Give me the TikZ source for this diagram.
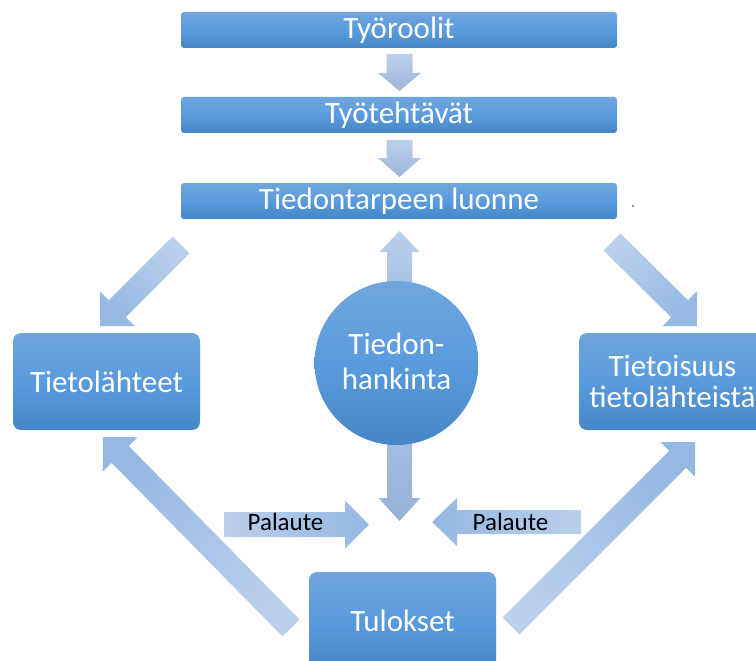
\documentclass[tikz,border=0pt]{standalone}
\usepackage{fontspec}
\setmainfont{Carlito}
\usetikzlibrary{calc}

\definecolor{boxtop}{RGB}{112,166,220}
\definecolor{boxmid}{RGB}{89,155,221}
\definecolor{boxbot}{RGB}{70,134,198}
\definecolor{arrlight}{RGB}{186,208,236}
\definecolor{arrdark}{RGB}{149,184,226}
\definecolor{arrgrey}{RGB}{158,181,216}
\definecolor{dotblue}{RGB}{80,110,230}

\tikzset{
  bar/.style={rectangle, inner sep=0pt, minimum width=436pt, minimum height=36pt,
    rounded corners=3pt, top color=boxtop, bottom color=boxbot, middle color=boxmid,
    text=white, font=\fontsize{31}{32}\selectfont},
  card/.style={rectangle, inner sep=0pt, minimum width=187pt, minimum height=97pt,
    rounded corners=8pt, top color=boxtop, bottom color=boxbot, middle color=boxmid,
    text=white, font=\fontsize{31}{31}\selectfont, align=center},
  hub/.style={circle, inner sep=0pt, minimum size=164pt,
    top color=boxtop, bottom color=boxbot, middle color=boxmid},
  hubtext/.style={inner sep=0pt, text=white, font=\fontsize{31}{35}\selectfont, align=center},
  fbtext/.style={inner sep=0pt, anchor=base, text=black, font=\fontsize{25}{27}\selectfont},
  fatfill/.style={top color=arrlight, bottom color=arrdark, shading angle=#1},
  greyfill/.style={top color=arrlight, bottom color=arrgrey, shading angle=#1},
}

% block arrow from tail #2 to tip #3: shaft half-width #4, head half-width #5, head length #6
\newcommand{\fatarrow}[6]{%
  \coordinate (fa-base) at ($(#3)!#6!(#2)$);
  \path[#1] ($(#2)!#4!90:(#3)$) -- ($(fa-base)!#4!90:(#3)$) -- ($(fa-base)!#5!90:(#3)$)
    -- (#3) -- ($(fa-base)!#5!-90:(#3)$) -- ($(fa-base)!#4!-90:(#3)$)
    -- ($(#2)!#4!-90:(#3)$) -- cycle;
}

\begin{document}
\begin{tikzpicture}[x=1pt, y=-1pt]
  \useasboundingbox (0,0) rectangle (756,661);
  \clip (0,0) rectangle (756,661);

  % arrow end points
  \coordinate (r2t-a) at (399.5,54);   \coordinate (r2t-b) at (399.5,91);
  \coordinate (t2n-a) at (399.5,140);  \coordinate (t2n-b) at (399.5,177);
  \coordinate (up-a)  at (399.5,300);  \coordinate (up-b)  at (399.5,231);
  \coordinate (dn-a)  at (399.5,430);  \coordinate (dn-b)  at (399.5,521);
  \coordinate (n2s-a) at (181,245);    \coordinate (n2s-b) at (100,326);
  \coordinate (n2w-a) at (612,242);    \coordinate (n2w-b) at (697,326);
  \coordinate (r2s-a) at (291,628);    \coordinate (r2s-b) at (103,437);
  \coordinate (r2w-a) at (511,626);    \coordinate (r2w-b) at (695,442);
  \coordinate (fbl-a) at (224,524.5);  \coordinate (fbl-b) at (369,524.5);
  \coordinate (fbr-a) at (581,522);    \coordinate (fbr-b) at (432,522);

  % block arrows
  \fatarrow{greyfill=0}{r2t-a}{r2t-b}{13pt}{21.5pt}{18pt}
  \fatarrow{greyfill=0}{t2n-a}{t2n-b}{13pt}{21.5pt}{19pt}
  \fatarrow{top color=arrlight, bottom color={rgb,255:red,163;green,190;blue,226}}{up-a}{up-b}{12.5pt}{20pt}{21pt}
  \fatarrow{top color={rgb,255:red,166;green,191;blue,226}, bottom color={rgb,255:red,152;green,176;blue,214}}{dn-a}{dn-b}{12.5pt}{21pt}{23pt}
  \fatarrow{fatfill=315}{n2s-a}{n2s-b}{12pt}{24.5pt}{24.5pt}
  \fatarrow{fatfill=45}{n2w-a}{n2w-b}{12pt}{24.5pt}{24.5pt}
  \fatarrow{fatfill=225}{r2s-a}{r2s-b}{12pt}{24.5pt}{24.5pt}
  \fatarrow{fatfill=135}{r2w-a}{r2w-b}{12pt}{24.5pt}{24.5pt}
  \fatarrow{fatfill=90}{fbl-a}{fbl-b}{12.5pt}{24pt}{24pt}
  \fatarrow{fatfill=270}{fbr-a}{fbr-b}{12pt}{24pt}{25pt}

  % labels on the feedback arrows
  \node[fbtext] (fbl) at (285.5,530) {Palaute};
  \node[fbtext] (fbr) at (510.5,530) {Palaute};

  % blocks
  \node[bar] (roles) at (399,30)  {Työroolit};
  \node[bar] (tasks) at (399,115) {Työtehtävät};
  \node[bar] (need)  at (399,201) {Tiedontarpeen luonne};
  \node[card] (sources) at (106.5,381.5) {Tietolähteet};
  \node[card] (aware)   at (672.5,381.5) {Tietoisuus\\tietolähteistä};
  \node[card] (results) at (402.5,620.5) {Tulokset};
  \node[hub] (seek) at (396.5,363) {};
  \node[hubtext] (seektext) at (396.5,361) {Tiedon-\\hankinta};

  % small dot
  \node[circle, fill=dotblue, inner sep=0pt, minimum size=2.4pt] (dot) at (633,206) {};
\end{tikzpicture}
\end{document}
